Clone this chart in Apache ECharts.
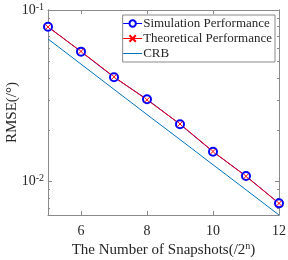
<!DOCTYPE html>
<html><head><meta charset="utf-8">
<script src="https://cdn.jsdelivr.net/npm/echarts@6/dist/echarts.min.js"></script>
<style>html,body{margin:0;padding:0;background:#fff}#c{width:288px;height:260px}</style>
</head><body><div id="c"></div>
<script>
var snapshots = [5, 6, 7, 8, 9, 10, 11, 12];
var simulation = [0.0799, 0.0572, 0.0406, 0.0302, 0.0216, 0.01495, 0.01079, 0.00748];
var theoretical = [0.0797, 0.0574, 0.0408, 0.0300, 0.0217, 0.0150, 0.01075, 0.00748];
var crb = [0.0678, 0.0484, 0.0345, 0.0246, 0.0176, 0.01256, 0.00897, 0.0064];
var xTicks = [6, 8, 10, 12];
var yMajor = [0.01, 0.1];
var yMinor = [0.007, 0.008, 0.009, 0.02, 0.03, 0.04, 0.05, 0.06, 0.07, 0.08, 0.09];
var yMin = 0.0064, yMax = 0.1;

function pairs(v){ return snapshots.map(function(x,i){ return [x, v[i]]; }); }
var FONT = '"Liberation Serif", "Times New Roman", serif';
var AX = '#8a8a8a', TX = '#262626';
var chart = echarts.init(document.getElementById('c'), null, {renderer:'canvas'});
function yAx(pos, ticks, len, labels){
  return {
    type:'log', logBase:10, min:yMin, max:yMax, position:pos,
    axisLine:{show:true, lineStyle:{color:AX, width:1}},
    axisTick:{show:true, inside:true, length:len, customValues:ticks, lineStyle:{color:AX}},
    axisLabel:labels ? {show:true, customValues:yMajor, margin:4, fontFamily:FONT, fontSize:14, color:TX,
      formatter:function(v){ return '10{s|' + Math.round(Math.log10(v)) + '}'; },
      rich:{s:{fontSize:10, fontFamily:FONT, color:TX, verticalAlign:'bottom', padding:[0,0,6,0]}}} : {show:false},
    splitLine:{show:false},
    name: (labels && pos==='left') ? 'RMSE(/°)' : '',
    nameLocation:'middle', nameGap:28, nameRotate:90, nameMoveOverlap:false,
    nameTextStyle:{fontFamily:FONT, fontSize:15, color:TX}
  };
}
function xAx(pos, labels){
  return {
    type:'value', min:5, max:12, position:pos,
    axisLine:{show:true, lineStyle:{color:AX, width:1}},
    axisTick:{show:true, inside:true, length:4, customValues:xTicks, lineStyle:{color:AX}},
    axisLabel:labels ? {show:true, customValues:xTicks, margin:9, fontFamily:FONT, fontSize:14, color:TX} : {show:false},
    splitLine:{show:false},
    name: labels ? 'The Number of Snapshots(/2{s|n})' : '',
    nameLocation:'middle', nameGap:26, nameMoveOverlap:false,
    nameTextStyle:{fontFamily:FONT, fontSize:15, color:TX,
      rich:{s:{fontSize:10, fontFamily:FONT, color:TX, verticalAlign:'bottom', padding:[0,0,8,0]}}}
  };
}
var xMark = 'path://M0,0L10,10M10,0L0,10';
chart.setOption({
  animation:false,
  backgroundColor:'#fff',
  grid:{left:48, right:9, top:10, bottom:45, outerBoundsMode:'none', containLabel:false},
  xAxis:[xAx('bottom', true), xAx('top', false)],
  yAxis:[yAx('left', yMajor, 4, true), yAx('left', yMinor, 2, false), yAx('right', yMajor, 4, false), yAx('right', yMinor, 2, false)],
  legend:{
    orient:'vertical', right:13, top:15, itemGap:2, itemWidth:19, itemHeight:8,
    backgroundColor:'#fff', borderColor:'#8a8a8a', borderWidth:1, borderRadius:0,
    padding:[2,3,2,0],
    textStyle:{fontFamily:FONT, fontSize:13, color:TX, padding:[0,0,0,-4]},
    lineStyle:{width:1},
    data:['Simulation Performance','Theoretical Performance',{name:'CRB', itemStyle:{opacity:0}}]
  },
  series:[
    {name:'Simulation Performance', type:'line', data:pairs(simulation), xAxisIndex:0, yAxisIndex:0,
     symbol:'emptyCircle', symbolSize:8, showAllSymbol:true,
     lineStyle:{color:'#0000ff', width:1}, itemStyle:{color:'#0000ff', borderColor:'#0000ff', borderWidth:1}},
    {name:'Theoretical Performance', type:'line', data:pairs(theoretical), xAxisIndex:0, yAxisIndex:0,
     symbol:xMark, symbolSize:5,
     lineStyle:{color:'#ff0000', width:1}, itemStyle:{color:'#ff0000', borderColor:'#ff0000', borderWidth:1}},
    {name:'CRB', type:'line', data:pairs(crb), xAxisIndex:0, yAxisIndex:0,
     symbol:'none', lineStyle:{color:'#0072BD', width:1}, itemStyle:{color:'#0072BD'}}
  ]
});
</script></body></html>
